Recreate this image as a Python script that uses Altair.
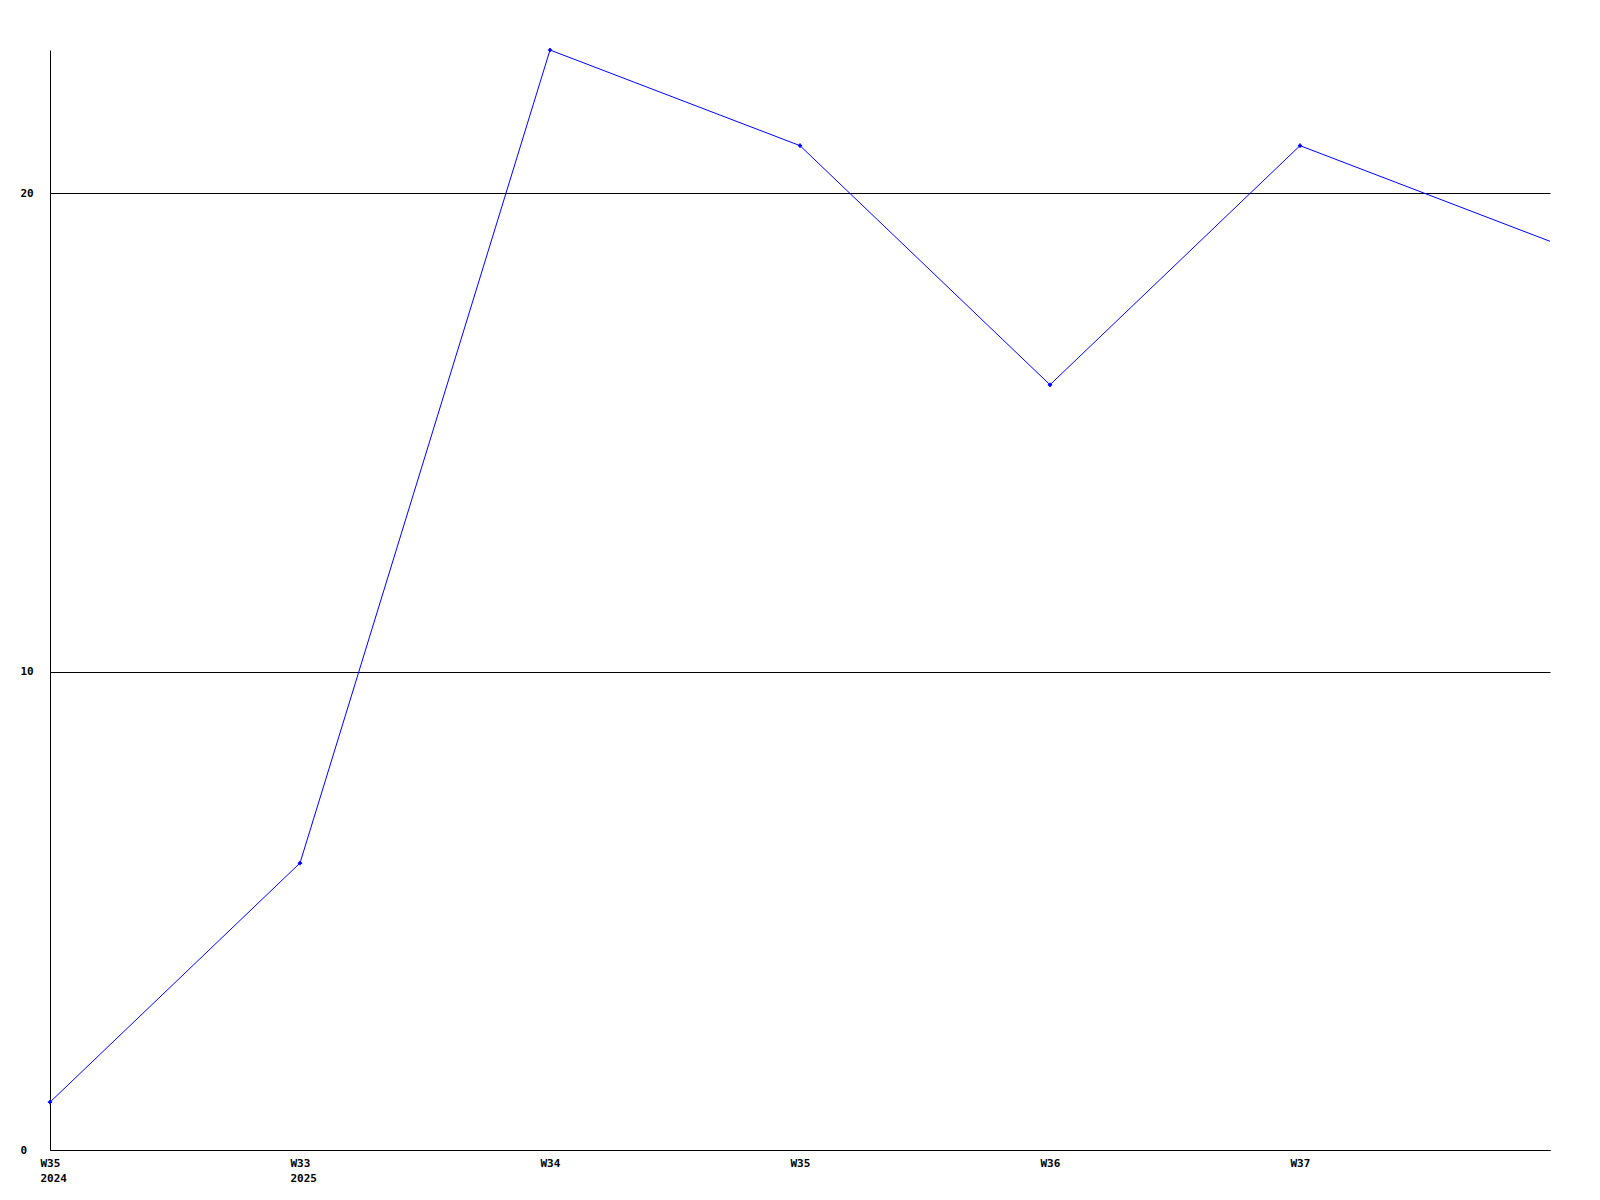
import altair as alt
import pandas as pd

weeks = ["W35", "W33", "W34", "W35", "W36", "W37", "W38"]
years = ["2024", "2025", "", "", "", "", ""]
values = [1, 6, 23, 21, 16, 21, 19]
show_label = [True, True, True, True, True, True, False]

df = pd.DataFrame({
    "idx": list(range(len(values))),
    "value": values,
    "marker": [True] * (len(values) - 1) + [False],
})

label_arr = "[" + ",".join(
    ("['" + w + "','" + y + "']" if y else "'" + w + "'") if s else "''"
    for w, y, s in zip(weeks, years, show_label)
) + "]"

FONT = "DejaVu Sans Mono"

x = alt.X(
    "idx:Q",
    scale=alt.Scale(domain=[0, len(values) - 1], nice=False, zero=False),
    axis=alt.Axis(
        values=list(range(len(values))),
        labelExpr=label_arr + "[datum.value]",
        grid=False, ticks=False, domainColor="black", domainWidth=1,
        labelFont=FONT, labelFontSize=11, labelFontWeight="bold", labelColor="black",
        labelPadding=7, labelLineHeight=15, labelBaseline="top", labelAlign="left",
        labelOffset=-10, labelOverlap=False, labelFlush=False, title=None,
    ),
)
y = alt.Y(
    "value:Q",
    scale=alt.Scale(domain=[0, 23], nice=False),
    axis=alt.Axis(
        values=[0, 10, 20], grid=True, gridColor="black", gridWidth=1, gridOpacity=1,
        ticks=False, domainColor="black", domainWidth=1,
        labelFont=FONT, labelFontSize=11, labelFontWeight="bold", labelColor="black",
        labelAlign="left", labelBaseline="middle", labelPadding=30, title=None,
    ),
)

line = alt.Chart(df).mark_line(color="#0000ff", strokeWidth=1, clip=True).encode(x=x, y=y)
pts = alt.Chart(df).transform_filter("datum.marker").mark_point(
    shape="cross", filled=True, color="#0000ff", size=18, opacity=1
).encode(x=x, y=y)

chart = alt.layer(line, pts).properties(
    width=1500, height=1100,
    autosize=alt.AutoSizeParams(type="none"),
    padding={"left": 42, "top": 42, "right": 40, "bottom": 40},
    view=alt.ViewBackground(stroke="white", strokeWidth=0, strokeOpacity=0),
).configure(
    background="white",
    view=alt.ViewConfig(stroke="white", strokeWidth=0, strokeOpacity=0),
)

chart.save("out.html", embed_options={"renderer": "svg", "actions": False})
